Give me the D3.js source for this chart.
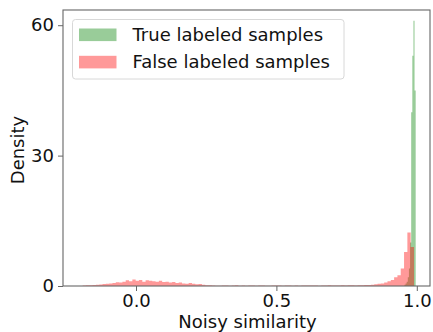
<!DOCTYPE html>
<html>
<head>
<meta charset="utf-8">
<script src="https://cdn.jsdelivr.net/npm/d3@7/dist/d3.min.js"></script>
<style>
  html, body { margin: 0; padding: 0; background: #fff; }
  text { font-family: "DejaVu Sans", sans-serif; fill: #111; }
</style>
</head>
<body>
<svg id="chart" width="433" height="332"></svg>
<script>
// ---- data ----
const seriesNames = ["True labeled samples", "False labeled samples"];
const xTicks = [0.0, 0.5, 1.0];
const yTicks = [0, 30, 60];

// False labeled samples: histogram density, bins start at -0.19, width 0.0118
const redStart = -0.19;
const redWidth = 0.0118;
const redValues = [
  0.1, 0.15, 0.2, 0.25,
  0.3, 0.35, 0.45, 0.5, 0.6,
  0.7, 0.85, 0.8, 1.0, 1.3, 1.1, 1.5,
  1.2, 1.4, 1.0, 1.3, 1.2, 1.1, 1.0, 1.2, 0.9,
  1.0, 0.8, 0.9, 0.7, 0.8, 0.6, 0.5, 0.7,
  0.5, 0.4, 0.45, 0.3, 0.2, 0.15, 0.1,
  0.08, 0.05, 0.1, 0.12, 0.06, 0.1, 0.15, 0.08, 0.1, 0.05,
  0.12, 0.1, 0.07, 0.1, 0.14, 0.08, 0.05, 0.1, 0.12, 0.09,
  0.06, 0.1, 0.13, 0.08, 0.1, 0.07, 0.12, 0.1, 0.09, 0.14,
  0.1, 0.08, 0.12, 0.1, 0.15, 0.11, 0.13, 0.1, 0.16, 0.12,
  0.15, 0.18, 0.14, 0.2, 0.18, 0.22,
  0.25, 0.3, 0.4, 0.5, 0.6, 0.8, 1.1, 1.4, 2.0, 2.5, 4.0, 7.8, 12.3, 9.0
];

// True labeled samples: histogram density, bins start at 0.956, width 0.004
const greenStart = 0.956;
const greenWidth = 0.004;
const greenValues = [0.3, 0.6, 1.0, 2.0, 4.0, 10, 40, 53, 61, 45];

// ---- layout ----
const W = 433, H = 332;
const margin = { left: 63, top: 10, right: 3, bottom: 46 };
const pw = W - margin.left - margin.right;
const ph = H - margin.top - margin.bottom;

const svg = d3.select("#chart");
const g = svg.append("g").attr("transform", `translate(${margin.left},${margin.top})`);

const x = d3.scaleLinear().domain([-0.26, 1.047]).range([0, pw]);
const y = d3.scaleLinear().domain([0, 63.5]).range([ph, 0]);

function binsOf(start, width, values) {
  const pts = values.map((v, i) => ({ x: start + i * width, v }));
  pts.push({ x: start + values.length * width, v: values[values.length - 1] });
  return pts;
}

const area = d3.area()
  .curve(d3.curveStepAfter)
  .x(d => x(d.x))
  .y0(y(0))
  .y1(d => y(d.v));

g.append("path")
  .datum(binsOf(greenStart, greenWidth, greenValues))
  .attr("d", area)
  .attr("fill", "#008000")
  .attr("fill-opacity", 0.4);

g.append("path")
  .datum(binsOf(redStart, redWidth, redValues))
  .attr("d", area)
  .attr("fill", "#ff0000")
  .attr("fill-opacity", 0.4);

// ---- axes ----
const fontSize = 18;
const xAxis = d3.axisBottom(x).tickValues(xTicks).tickFormat(d3.format(".1f")).tickSize(5).tickPadding(3);
const yAxis = d3.axisLeft(y).tickValues(yTicks).tickFormat(d3.format("d")).tickSize(5).tickPadding(4);

const gx = g.append("g").attr("transform", `translate(0,${ph})`).call(xAxis);
const gy = g.append("g").call(yAxis);
[gx, gy].forEach(a => {
  a.select(".domain").remove();
  a.selectAll(".tick line").attr("stroke", "#666").attr("stroke-width", 1);
  a.selectAll(".tick text").style("font-size", fontSize + "px").attr("fill", "#111");
});

// spines
g.append("rect")
  .attr("x", 0).attr("y", 0).attr("width", pw).attr("height", ph)
  .attr("fill", "none").attr("stroke", "#666").attr("stroke-width", 1.1);

// axis labels
svg.append("text")
  .attr("x", margin.left + pw / 2 + 1)
  .attr("y", 327.5)
  .attr("text-anchor", "middle")
  .style("font-size", fontSize + "px")
  .text("Noisy similarity");

svg.append("text")
  .attr("transform", `translate(23.5,${margin.top + ph / 2 + 2}) rotate(-90)`)
  .attr("text-anchor", "middle")
  .style("font-size", fontSize + "px")
  .text("Density");

// ---- legend ----
const colors = ["#008000", "#ff0000"];
const lg = svg.append("g");
lg.append("rect")
  .attr("x", 72.5).attr("y", 19.5).attr("width", 271.5).attr("height", 59.5)
  .attr("rx", 3).attr("ry", 3)
  .attr("fill", "#fff").attr("fill-opacity", 0.8)
  .attr("stroke", "#d8d8d8").attr("stroke-width", 1);

seriesNames.forEach((name, i) => {
  const yy = 28.5 + i * 27.3;
  lg.append("rect")
    .attr("x", 79).attr("y", yy).attr("width", 37.5).attr("height", 12.6)
    .attr("fill", colors[i]).attr("fill-opacity", 0.4);
  lg.append("text")
    .attr("x", 132.5).attr("y", yy + 12.4)
    .style("font-size", fontSize + "px")
    .text(name);
});
</script>
</body>
</html>
